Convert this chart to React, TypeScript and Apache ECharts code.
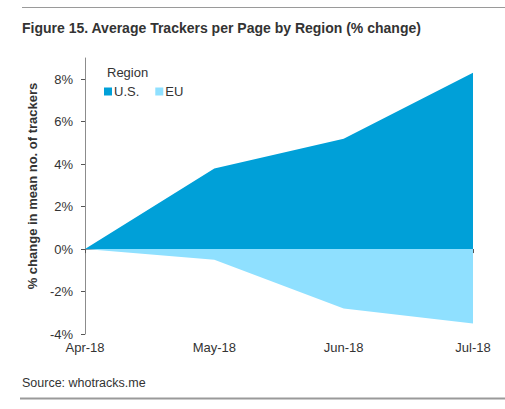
import React, { useEffect, useRef } from 'react';
import * as echarts from 'echarts';

const months = ['Apr-18', 'May-18', 'Jun-18', 'Jul-18'];
const usValues = [0, 3.8, 5.2, 8.3];
const euValues = [0, -0.5, -2.8, -3.5];
const yTicks = [-4, -2, 0, 2, 4, 6, 8];

const US_COLOR = '#00a0d8';
const EU_COLOR = '#8fe0ff';
const TEXT = '#333333';
const AXIS = '#8c8c8c';
const FONT = 'Arial, "Liberation Sans", sans-serif';

const App = () => {
  const chartRef = useRef(null);

  useEffect(() => {
    document.body.style.margin = '0';
    if (!chartRef.current) return;
    const chart = echarts.init(chartRef.current, null, { renderer: 'svg' });

    const option = {
      animation: false,
      textStyle: { fontFamily: FONT },
      title: [
        {
          text: 'Figure 15. Average Trackers per Page by Region (% change)',
          left: 22,
          top: 21,
          padding: 0,
          textStyle: { fontFamily: FONT, fontSize: 14, fontWeight: 'bold', color: TEXT },
        },
        {
          text: 'Region',
          left: 107,
          top: 66,
          padding: 0,
          textStyle: { fontFamily: FONT, fontSize: 13, fontWeight: 'normal', color: TEXT },
        },
        {
          text: 'Source: whotracks.me',
          left: 22,
          top: 376,
          padding: 0,
          textStyle: { fontFamily: FONT, fontSize: 12.5, fontWeight: 'normal', color: TEXT },
        },
      ],
      legend: {
        left: 104,
        top: 85,
        padding: 0,
        itemWidth: 8,
        itemHeight: 8,
        itemGap: 16,
        icon: 'rect',
        textStyle: { fontFamily: FONT, fontSize: 13, color: TEXT, padding: [0, 0, 0, -3] },
        data: ['U.S.', 'EU'],
      },
      grid: { left: 85, right: 32, top: 58, bottom: 75, containLabel: false },
      xAxis: [
        {
          type: 'category',
          data: months,
          boundaryGap: false,
          axisLine: { onZero: true, lineStyle: { color: AXIS, width: 1 } },
          axisTick: { show: true, inside: false, length: 4, lineStyle: { color: '#555' } },
          axisLabel: { show: false },
          splitLine: { show: false },
        },
        {
          type: 'category',
          data: months,
          boundaryGap: false,
          position: 'bottom',
          axisLine: { show: false, onZero: false },
          axisTick: { show: false },
          axisLabel: { show: true, margin: 7, fontSize: 13, color: TEXT, fontFamily: FONT },
          splitLine: { show: false },
        },
      ],
      yAxis: {
        type: 'value',
        min: -4,
        max: 9,
        axisLine: { show: true, lineStyle: { color: AXIS, width: 1 } },
        axisTick: { show: true, length: 4, customValues: yTicks, lineStyle: { color: '#555' } },
        axisLabel: {
          customValues: yTicks,
          margin: 12,
          fontSize: 13,
          color: TEXT,
          fontFamily: FONT,
          formatter: (v: number) => `${v}%`,
        },
        splitLine: { show: false },
      },
      graphic: [
        {
          type: 'line',
          shape: { x1: 22, y1: 7.5, x2: 505, y2: 7.5 },
          style: { stroke: '#9a9a9a', lineWidth: 1 },
        },
        {
          type: 'line',
          shape: { x1: 20, y1: 398.5, x2: 505, y2: 398.5 },
          style: { stroke: '#9a9a9a', lineWidth: 2 },
        },
        {
          type: 'text',
          x: 32,
          y: 186,
          rotation: Math.PI / 2,
          style: {
            text: '% change in mean no. of trackers',
            fontFamily: FONT,
            fontSize: 13,
            fontWeight: 'bold',
            fill: TEXT,
            textAlign: 'center',
            textVerticalAlign: 'middle',
          },
        },
      ],
      series: [
        {
          name: 'U.S.',
          type: 'line',
          data: usValues,
          symbol: 'none',
          color: US_COLOR,
          lineStyle: { width: 0 },
          areaStyle: { color: US_COLOR, opacity: 1 },
        },
        {
          name: 'EU',
          type: 'line',
          data: euValues,
          symbol: 'none',
          color: EU_COLOR,
          lineStyle: { width: 0 },
          areaStyle: { color: EU_COLOR, opacity: 1 },
        },
      ],
    };

    chart.setOption(option);

    return () => {
      chart.dispose();
    };
  }, []);

  return <div ref={chartRef} style={{ width: '505px', height: '409px' }} />;
};

export default App;
